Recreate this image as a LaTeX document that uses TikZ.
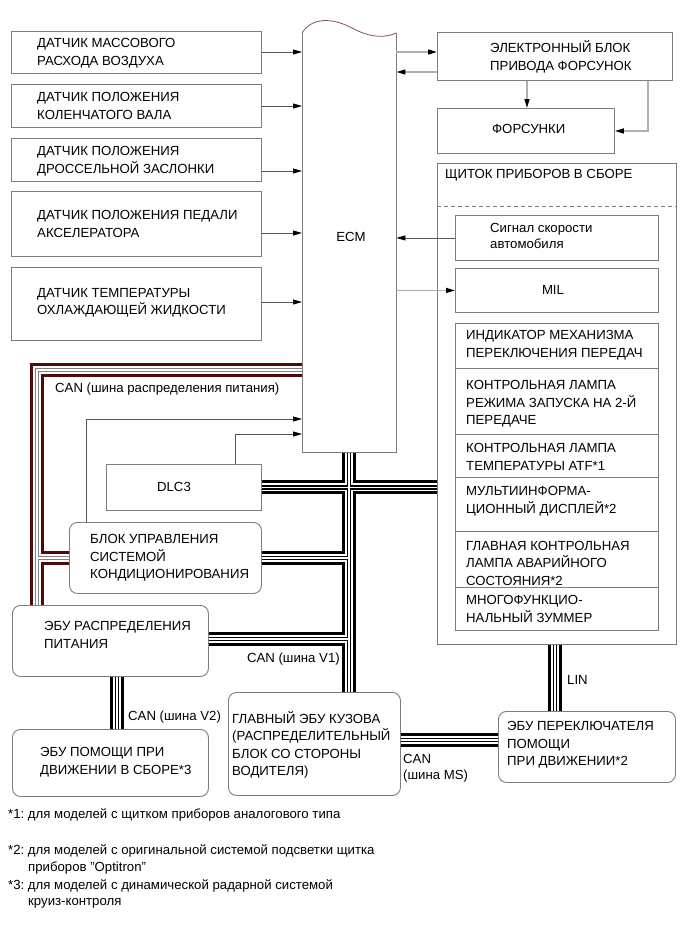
\documentclass[tikz,border=0pt]{standalone}
\usepackage{fontspec}
\setmainfont{Liberation Sans}
\usetikzlibrary{arrows.meta,calc}
\definecolor{bx}{RGB}{125,125,125}
\definecolor{ln}{RGB}{85,85,85}
\definecolor{lg}{RGB}{175,175,175}
\definecolor{dred}{RGB}{80,10,10}
\newcommand\fsz{\fontsize{13.2}{17.5}\selectfont}
\frenchspacing
\begin{document}
\begin{tikzpicture}[x=1pt,y=-1pt,
  box/.style={draw=bx, line width=0.9pt, fill=white, anchor=north west, inner sep=0pt},
  rbox/.style={box, rounded corners=8pt},
  txt/.style={anchor=west, align=left, inner sep=0pt, font=\fsz},
  arrL/.style={draw=ln, line width=0.8pt, -{Triangle[length=9pt,width=5pt,black]}},
  arrR/.style={draw=lg, line width=1.4pt, -{Triangle[length=9pt,width=5pt,black]}},
]
\fill[white] (0,0) rectangle (691,951);
\useasboundingbox (0,0) rectangle (691,951);

% ---------- node frames (positions) ----------
\node[minimum width=94pt, minimum height=419pt, anchor=north west, inner sep=0pt] (ecm) at (302,33) {};
\coordinate (vx) at (349,0);
\coordinate (redx) at (37,0);
\coordinate (v2x) at (117,0);
\coordinate (linx) at (555,0);

% sizes only, drawn later
\path (0,0) node[box, draw=none, fill=none, minimum width=155pt, minimum height=46pt] (dlc) at (106,464) {};
\path (0,0) node[rbox, draw=none, fill=none, minimum width=192pt, minimum height=71pt] (acb) at (69,522) {};
\path (0,0) node[rbox, draw=none, fill=none, minimum width=196pt, minimum height=71pt] (epd) at (12,605) {};
\path (0,0) node[rbox, draw=none, fill=none, minimum width=196pt, minimum height=67pt] (eah) at (12,729) {};
\path (0,0) node[rbox, draw=none, fill=none, minimum width=172pt, minimum height=103pt] (body) at (228,692) {};
\path (0,0) node[rbox, draw=none, fill=none, minimum width=177pt, minimum height=71pt] (sw) at (498,711) {};
\path (0,0) node[box, draw=none, fill=none, minimum width=239pt, minimum height=481pt] (cl) at (437,163) {};

% ---------- CAN buses ----------
\foreach \w/\c/\r in {14/black/dred, 8/white/white, 4.5/black/gray, 1.8/white/white} {
  \draw[line width=\w pt, draw=\r, line join=miter, line cap=butt]
    (ecm.west |- 0,370) -- (redx |- 0,370) -- (redx |- epd.north)
    (redx |- acb.west) -- (acb.west);
  \draw[line width=\w pt, draw=\c, line join=miter, line cap=butt]
    (ecm.south -| vx) -- (body.north -| vx)
    (dlc.east) -- (cl.west |- dlc.east)
    (acb.east) -- (acb.east -| vx)
    (epd.east |- 0,639) -- (vx |- 0,639)
    (epd.south -| v2x) -- (eah.north -| v2x)
    (body.east |- 0,740) -- (sw.west |- 0,740)
    (cl.south -| linx) -- (sw.north -| linx);
}

% ---------- ECM ----------
\path[fill=white] (ecm.north west) .. controls (312,17) and (332,18) .. (350,27)
   .. controls (365,35) and (380,40) .. (ecm.north east) -- (ecm.south east) -- (ecm.south west) -- cycle;
\draw[bx, line width=0.9pt] (ecm.north east) -- (ecm.south east) -- (ecm.south west) -- (ecm.north west);
\draw[dred!70, line width=0.8pt] (ecm.north west) .. controls (312,17) and (332,18) .. (350,27)
   .. controls (365,35) and (380,40) .. (ecm.north east);
\node[font=\fsz, inner sep=0pt] (ecmt) at (351,237) {ECM};

% ---------- left sensors ----------
\node[box, minimum width=250pt, minimum height=42pt] (s1) at (11,31) {};
\node[box, minimum width=250pt, minimum height=43pt] (s2) at (11,84) {};
\node[box, minimum width=250pt, minimum height=43pt] (s3) at (11,138) {};
\node[box, minimum width=250pt, minimum height=65pt] (s4) at (11,191) {};
\node[box, minimum width=250pt, minimum height=73pt] (s5) at (11,267) {};
\node[txt] (s1t) at (37,53) {ДАТЧИК МАССОВОГО\\РАСХОДА ВОЗДУХА};
\node[txt] (s2t) at (37,106) {ДАТЧИК ПОЛОЖЕНИЯ\\КОЛЕНЧАТОГО ВАЛА};
\node[txt] (s3t) at (37,161) {ДАТЧИК ПОЛОЖЕНИЯ\\ДРОССЕЛЬНОЙ ЗАСЛОНКИ};
\node[txt] (s4t) at (37,224) {ДАТЧИК ПОЛОЖЕНИЯ ПЕДАЛИ\\АКСЕЛЕРАТОРА};
\node[txt] (s5t) at (37,303) {ДАТЧИК ТЕМПЕРАТУРЫ\\ОХЛАЖДАЮЩЕЙ ЖИДКОСТИ};
\draw[arrL] (s1.east |- 0,52) -- (ecm.west |- 0,52);
\draw[arrL] (s2.east |- 0,106) -- (ecm.west |- 0,106);
\draw[arrL] (s3.east |- 0,171) -- (ecm.west |- 0,171);
\draw[arrL] (s4.east |- 0,233) -- (ecm.west |- 0,233);
\draw[arrL] (s5.east |- 0,302) -- (ecm.west |- 0,302);

% ---------- injectors ----------
\node[box, minimum width=235pt, minimum height=48pt] (inj) at (437,32) {};
\node[txt] (injt) at (490,57) {ЭЛЕКТРОННЫЙ БЛОК\\ПРИВОДА ФОРСУНОК};
\node[box, minimum width=177pt, minimum height=45pt] (fors) at (437,108) {};
\node[txt] (forst) at (492,129) {ФОРСУНКИ};
\draw[arrR] (ecm.east |- 0,52) -- (inj.west |- 0,52);
\draw[arrR] (inj.west |- 0,72) -- (ecm.east |- 0,72);
\draw[arrR] (inj.south -| 527,0) -- (fors.north -| 527,0);
\draw[arrR] (inj.south -| 648,0) |- (fors.east);

% ---------- instrument cluster ----------
\node[box, minimum width=239pt, minimum height=481pt] (clb) at (437,163) {};
\node[txt] (clt) at (445,175) {ЩИТОК ПРИБОРОВ В СБОРЕ};
\draw[bx, line width=0.8pt, dash pattern=on 4pt off 3pt] (clb.west |- 0,206) -- (clb.east |- 0,206);
\node[box, minimum width=203pt, minimum height=45pt] (sig) at (455,215) {};
\node[txt, font=\fontsize{13.2}{16}\selectfont] (sigt) at (490,236) {Сигнал скорости\\автомобиля};
\node[box, minimum width=203pt, minimum height=44pt] (mil) at (455,268) {};
\node[font=\fsz, inner sep=0pt] (milt) at (553,290) {MIL};
\draw[arrL] (sig.west) -- (sig.west -| ecm.east);
\draw[arrR] (mil.west -| ecm.east) -- (mil.west);

\node[box, minimum width=203pt, minimum height=45pt] (r1) at (455,323) {};
\node[box, minimum width=203pt, minimum height=66pt] (r2) at (455,368) {};
\node[box, minimum width=203pt, minimum height=43pt] (r3) at (455,434) {};
\node[box, minimum width=203pt, minimum height=54pt] (r4) at (455,477) {};
\node[box, minimum width=203pt, minimum height=56pt] (r5) at (455,531) {};
\node[box, minimum width=203pt, minimum height=43pt] (r6) at (455,587) {};
\node[txt] (r1t) at (466,345) {ИНДИКАТОР МЕХАНИЗМА\\ПЕРЕКЛЮЧЕНИЯ ПЕРЕДАЧ};
\node[txt] (r2t) at (466,404) {КОНТРОЛЬНАЯ ЛАМПА\\РЕЖИМА ЗАПУСКА НА 2-Й\\ПЕРЕДАЧЕ};
\node[txt] (r3t) at (466,457) {КОНТРОЛЬНАЯ ЛАМПА\\ТЕМПЕРАТУРЫ ATF*1};
\node[txt] (r4t) at (466,501) {МУЛЬТИИНФОРМА-\\ЦИОННЫЙ ДИСПЛЕЙ*2};
\node[txt] (r5t) at (466,563) {ГЛАВНАЯ КОНТРОЛЬНАЯ\\ЛАМПА АВАРИЙНОГО\\СОСТОЯНИЯ*2};
\node[txt] (r6t) at (466,609) {МНОГОФУНКЦИО-\\НАЛЬНЫЙ ЗУММЕР};

% ---------- lower boxes ----------
\node[box, minimum width=155pt, minimum height=46pt] (dlcb) at (106,464) {};
\node[font=\fsz, inner sep=0pt] (dlct) at (174,487) {DLC3};
\node[rbox, minimum width=192pt, minimum height=71pt] (acbb) at (69,522) {};
\node[txt] (acbt) at (90,558) {БЛОК УПРАВЛЕНИЯ\\СИСТЕМОЙ\\КОНДИЦИОНИРОВАНИЯ};
\draw[arrL] (dlcb.north -| 235,0) |- (ecm.west |- 0,434);
\draw[arrL] (acbb.north -| 86,0) |- (ecm.west |- 0,419);

\node[rbox, minimum width=196pt, minimum height=71pt] (epdb) at (12,605) {};
\node[txt] (epdt) at (44,635) {ЭБУ РАСПРЕДЕЛЕНИЯ\\ПИТАНИЯ};
\node[rbox, minimum width=196pt, minimum height=67pt] (eahb) at (12,729) {};
\node[txt] (eaht) at (40,762) {ЭБУ ПОМОЩИ ПРИ\\ДВИЖЕНИИ В СБОРЕ*3};
\node[rbox, minimum width=172pt, minimum height=103pt] (bodyb) at (228,692) {};
\node[txt] (bodyt) at (232,745) {ГЛАВНЫЙ ЭБУ КУЗОВА\\(РАСПРЕДЕЛИТЕЛЬНЫЙ\\БЛОК СО СТОРОНЫ\\ВОДИТЕЛЯ)};
\node[rbox, minimum width=177pt, minimum height=71pt] (swb) at (498,711) {};
\node[txt] (swt) at (507,745) {ЭБУ ПЕРЕКЛЮЧАТЕЛЯ\\ПОМОЩИ\\ПРИ ДВИЖЕНИИ*2};

% ---------- bus labels ----------
\node[txt] (lred) at (55,389) {CAN (шина распределения питания)};
\node[txt, anchor=east] (lv1) at (340,659) {CAN (шина V1)};
\node[txt] (lv2) at (128,717) {CAN (шина V2)};
\node[txt, font=\fontsize{13.2}{16}\selectfont] (lms) at (403,768) {CAN\\(шина MS)};
\node[txt] (llin) at (567,680) {LIN};

% ---------- footnotes ----------
\node[txt] (f1) at (8,815) {*1: для моделей с щитком приборов аналогового типа};
\node[txt] (f2) at (8,851) {*2: для моделей с оригинальной системой подсветки щитка};
\node[txt] (f2b) at (28,868) {приборов \symbol{"22}Optitron\symbol{"22}};
\node[txt] (f3) at (8,886) {*3: для моделей с динамической радарной системой};
\node[txt] (f3b) at (28,903) {круиз-контроля};
\end{tikzpicture}
\end{document}
